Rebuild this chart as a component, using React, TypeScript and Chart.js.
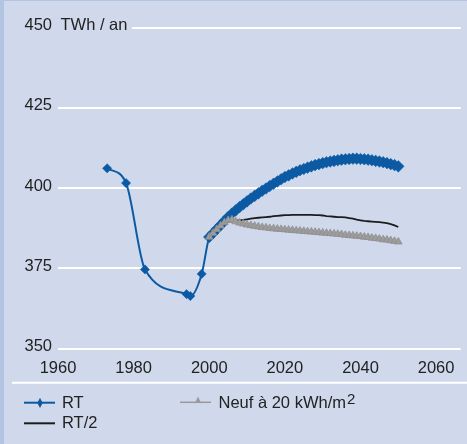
import React, { useEffect, useRef } from 'react';
import { Chart, registerables } from 'chart.js';

Chart.register(...registerables);

// ---- data ----
const histYears = [1973, 1978, 1983, 1994, 1995, 1998];
const histRT = [406.2, 401.6, 374.7, 367.0, 366.4, 373.3];

const projYears = [
  2000, 2001, 2002, 2003, 2004, 2005, 2006, 2007, 2008, 2009,
  2010, 2011, 2012, 2013, 2014, 2015, 2016, 2017, 2018, 2019,
  2020, 2021, 2022, 2023, 2024, 2025, 2026, 2027, 2028, 2029,
  2030, 2031, 2032, 2033, 2034, 2035, 2036, 2037, 2038, 2039,
  2040, 2041, 2042, 2043, 2044, 2045, 2046, 2047, 2048, 2049,
  2050,
];

const projRT = [
  384.8, 386.0, 387.3, 388.5, 389.8, 391.0, 392.1, 393.1, 394.1, 395.0,
  395.9, 396.8, 397.6, 398.4, 399.2, 399.9, 400.7, 401.4, 402.1, 402.8,
  403.5, 404.0, 404.6, 405.1, 405.6, 406.0, 406.4, 406.8, 407.2, 407.5,
  407.8, 408.1, 408.3, 408.5, 408.7, 408.9, 409.0, 409.1, 409.2, 409.2,
  409.1, 409.0, 408.9, 408.7, 408.5, 408.3, 408.1, 407.8, 407.5, 407.2,
  406.8,
];

const projRT2 = [
  384.8, 386.0, 387.2, 388.3, 389.3, 390.0, 390.0, 390.0, 390.0, 390.1,
  390.3, 390.5, 390.7, 390.8, 390.9, 391.0, 391.1, 391.3, 391.4, 391.5,
  391.6, 391.6, 391.7, 391.7, 391.7, 391.7, 391.7, 391.7, 391.6, 391.6,
  391.5, 391.3, 391.2, 391.1, 391.0, 391.0, 390.9, 390.7, 390.5, 390.2,
  390.0, 389.8, 389.7, 389.6, 389.5, 389.4, 389.3, 389.1, 388.8, 388.4,
  387.9,
];

const projNeuf = [
  384.8, 386.0, 387.2, 388.3, 389.3, 390.0, 390.2, 389.6, 389.2, 388.9,
  388.6, 388.4, 388.2, 388.0, 387.8, 387.7, 387.5, 387.4, 387.3, 387.2,
  387.1, 387.0, 386.9, 386.8, 386.7, 386.6, 386.5, 386.4, 386.3, 386.2,
  386.1, 386.0, 385.9, 385.8, 385.7, 385.6, 385.4, 385.3, 385.2, 385.1,
  385.0, 384.8, 384.7, 384.5, 384.4, 384.2, 384.0, 383.9, 383.7, 383.5,
  383.3,
];

const xTickValues = [1960, 1980, 2000, 2020, 2040, 2060];
const yTickStep = 25;
const unitLabel = 'TWh / an';
const legendRT = 'RT';
const legendRT2 = 'RT/2';
const legendNeuf = 'Neuf à 20 kWh/m';
const legendNeufSup = '2';

// ---- styles ----
const FONT = "'Liberation Sans', Arial, Helvetica, sans-serif";
const BG = '#d0d9ec';
const STRIP = '#b3c3e2';
const TEXT = '#222222';
const BLUE = '#0b5aa3';
const GRAY = '#999999';
const BLACK = '#1c1c1c';

const decorPlugin = {
  id: 'decor',
  beforeDraw(chart: any) {
    const { ctx, width, height } = chart;
    ctx.save();
    ctx.fillStyle = BG;
    ctx.fillRect(0, 0, width, height);
    ctx.fillStyle = STRIP;
    ctx.fillRect(0, 0, 4, height);
    ctx.fillRect(0, 0, width, 1);
    ctx.strokeStyle = '#ffffff';
    ctx.lineWidth = 2;
    ctx.beginPath();
    ctx.moveTo(12, 382.7);
    ctx.lineTo(width, 382.7);
    ctx.stroke();
    ctx.restore();
  },
  beforeDatasetsDraw(chart: any) {
    const { ctx, chartArea } = chart;
    const yScale = chart.scales.y;
    const y450 = yScale.getPixelForValue(450);
    ctx.save();
    ctx.font = `16.5px ${FONT}`;
    const w = ctx.measureText(unitLabel).width;
    ctx.fillStyle = BG;
    ctx.fillRect(chartArea.left - 1, y450 - 2, w + 8, 4);
    ctx.fillStyle = TEXT;
    ctx.textBaseline = 'middle';
    ctx.textAlign = 'left';
    ctx.fillText(unitLabel, chartArea.left + 2.5, y450 - 2);
    ctx.restore();
  },
  afterDraw(chart: any) {
    const { ctx } = chart;
    ctx.save();
    // RT
    ctx.strokeStyle = BLUE;
    ctx.lineWidth = 2;
    ctx.beginPath();
    ctx.moveTo(24, 402.7);
    ctx.lineTo(55, 402.7);
    ctx.stroke();
    ctx.fillStyle = BLUE;
    ctx.beginPath();
    ctx.moveTo(40, 397.8);
    ctx.lineTo(42.7, 402.9);
    ctx.lineTo(40, 408);
    ctx.lineTo(37.3, 402.9);
    ctx.closePath();
    ctx.fill();
    // RT/2
    ctx.strokeStyle = BLACK;
    ctx.lineWidth = 2;
    ctx.beginPath();
    ctx.moveTo(24, 423.3);
    ctx.lineTo(55, 423.3);
    ctx.stroke();
    // Neuf
    ctx.strokeStyle = GRAY;
    ctx.lineWidth = 1.5;
    ctx.beginPath();
    ctx.moveTo(180, 402.3);
    ctx.lineTo(211, 402.3);
    ctx.stroke();
    ctx.fillStyle = GRAY;
    ctx.beginPath();
    ctx.moveTo(198, 396.5);
    ctx.lineTo(200.8, 402.5);
    ctx.lineTo(195.2, 402.5);
    ctx.closePath();
    ctx.fill();

    ctx.fillStyle = TEXT;
    ctx.textBaseline = 'alphabetic';
    ctx.textAlign = 'left';
    ctx.font = `16.5px ${FONT}`;
    ctx.fillText(legendRT, 62, 408.3);
    ctx.fillText(legendRT2, 62, 427.7);
    ctx.fillText(legendNeuf, 218.5, 408.3);
    const w = ctx.measureText(legendNeuf).width;
    ctx.font = `15px ${FONT}`;
    ctx.fillText(legendNeufSup, 218.5 + w + 1, 404);
    ctx.restore();
  },
};

export default function App() {
  const canvasRef = useRef<HTMLCanvasElement | null>(null);

  useEffect(() => {
    const canvas = canvasRef.current;
    if (!canvas) return;

    const rtData = [
      ...histYears.map((x, i) => ({ x, y: histRT[i] })),
      ...projYears.map((x, i) => ({ x, y: projRT[i] })),
    ];
    const rtRadii = [...histYears.map(() => 4.6), ...projYears.map(() => 5.8)];
    const rt2Data = projYears.map((x, i) => ({ x, y: projRT2[i] }));
    const neufData = projYears.map((x, i) => ({ x, y: projNeuf[i] }));

    const chart = new Chart(canvas, {
      type: 'line',
      data: {
        datasets: [
          {
            label: legendNeuf + legendNeufSup,
            data: neufData,
            order: 0,
            borderColor: GRAY,
            borderWidth: 2,
            backgroundColor: '#9c9c9c',
            pointStyle: 'triangle',
            pointRadius: 4.4,
            pointBorderWidth: 0.8,
            pointBorderColor: '#8e8e8e',
            pointBackgroundColor: '#9c9c9c',
            tension: 0,
          },
          {
            label: legendRT2,
            data: rt2Data,
            order: 1,
            borderColor: BLACK,
            borderWidth: 1.8,
            pointRadius: 0,
            tension: 0,
          },
          {
            label: legendRT,
            data: rtData,
            order: 2,
            borderColor: BLUE,
            borderWidth: 2,
            backgroundColor: BLUE,
            pointStyle: 'rectRot',
            pointRadius: rtRadii,
            pointBorderWidth: 0.5,
            pointBorderColor: BLUE,
            pointBackgroundColor: BLUE,
            cubicInterpolationMode: 'monotone',
          },
        ],
      },
      options: {
        responsive: false,
        animation: false,
        devicePixelRatio: 1,
        layout: { padding: { top: 27.7, right: 3, left: 0, bottom: 0 } },
        plugins: {
          legend: { display: false },
          tooltip: { enabled: false },
        },
        font: { family: FONT, size: 16.5 },
        scales: {
          x: {
            type: 'linear',
            min: 1960,
            max: 2066.5,
            grid: { display: false },
            border: { display: false },
            ticks: {
              color: TEXT,
              font: { family: FONT, size: 16.5 },
              padding: 2,
              maxRotation: 0,
              autoSkip: false,
              callback: (v: any) => String(v),
            },
            afterBuildTicks: (scale: any) => {
              scale.ticks = xTickValues.map((v) => ({ value: v }));
            },
            afterFit: (scale: any) => {
              scale.height = 444 - 348.7;
            },
          },
          y: {
            type: 'linear',
            min: 350,
            max: 450,
            grid: {
              color: '#ffffff',
              lineWidth: 2,
              drawTicks: false,
            },
            border: { display: false },
            ticks: {
              stepSize: yTickStep,
              color: TEXT,
              font: { family: FONT, size: 16.5 },
              padding: 6,
              labelOffset: -2,
              callback: (v: any) => String(v),
            },
            afterFit: (scale: any) => {
              scale.width = 58;
            },
          },
        },
      } as any,
      plugins: [decorPlugin],
    });

    return () => {
      chart.destroy();
    };
  }, []);

  return (
    <div style={{ position: 'fixed', left: 0, top: 0, width: 467, height: 444, background: BG }}>
      <canvas ref={canvasRef} width={467} height={444} style={{ display: 'block', width: 467, height: 444 }} />
    </div>
  );
}
